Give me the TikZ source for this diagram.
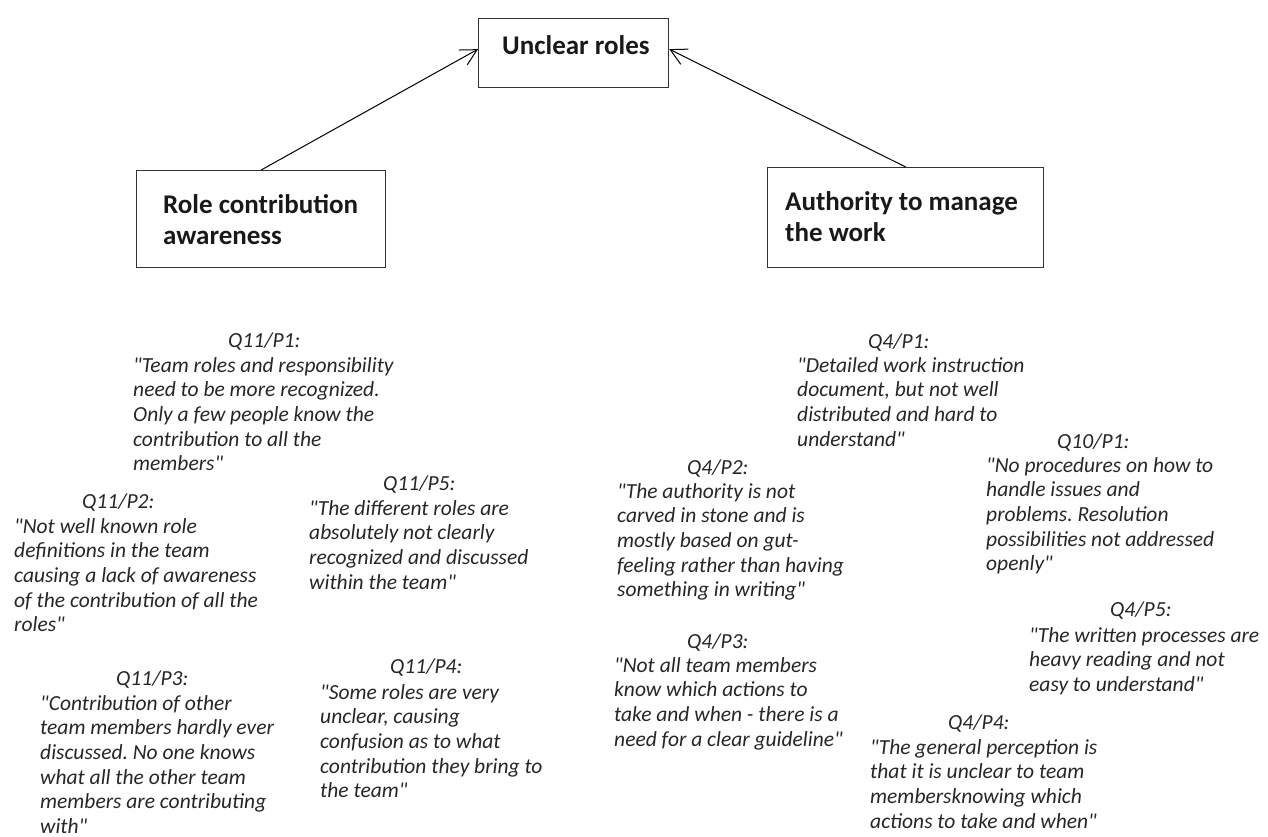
\documentclass[tikz,border=0pt]{standalone}
\usepackage{fontspec}
\setmainfont{Carlito}[Ligatures=TeXOff]
\usetikzlibrary{arrows.meta}
\frenchspacing
% stacked lines whose baseline is the first line
\newcommand\qlines[1]{\begin{tabular}[t]{@{}l@{}}#1\end{tabular}}
\begin{document}
\begin{tikzpicture}[x=1pt,y=-1pt,
  box/.style={draw=black!80, line width=1.3pt, rectangle, inner sep=0pt, anchor=north west},
  boxtext/.style={font=\bfseries\fontsize{27}{31}\selectfont, anchor=base west, inner sep=0pt, text=black!90},
  qhead/.style={font=\itshape\fontsize{21.5}{25}\selectfont, anchor=base west, inner sep=0pt, text=black!85},
  quote/.style={font=\itshape\fontsize{21.5}{24.7}\selectfont, anchor=base west, inner sep=0pt, text=black!85},
  arr/.style={-{Straight Barb[angle'=56,length=16pt]}, line width=1pt}
]
\useasboundingbox (0,0) rectangle (1268,837);

% category boxes
\node[box, minimum width=190pt, minimum height=69pt] (ur) at (478,18) {};
\node[boxtext] (urt) at (502,55) {Unclear roles};
\node[box, minimum width=249pt, minimum height=97pt] (rca) at (136,170) {};
\node[boxtext] (rcat) at (163,213) {\qlines{Role contribution\\awareness}};
\node[box, minimum width=276pt, minimum height=100pt] (awm) at (767,167) {};
\node[boxtext] (awmt) at (785,211) {\qlines{Authority to manage\\the work}};

% links to the main category
\draw[arr] (rca.north) -- ([yshift=4pt]ur.west);
\draw[arr] (awm.north) -- ([yshift=4pt]ur.east);

% quotes under "Role contribution awareness"
\node[qhead] (h1) at (228,347) {Q11/P1:};
\node[quote] (q1) at (133,372) {\qlines{"Team roles and responsibility\\need to be more recognized.\\Only a few people know the\\contribution to all the\\members"}};
\node[qhead] (h2) at (82,508) {Q11/P2:};
\node[quote] (q2) at (14,533) {\qlines{"Not well known role\\definitions in the team\\causing a lack of awareness\\of the contribution of all the\\roles"}};
\node[qhead] (h5) at (383,490) {Q11/P5:};
\node[quote] (q5) at (309,515) {\qlines{"The different roles are\\absolutely not clearly\\recognized and discussed\\within the team"}};
\node[qhead] (h3) at (116,685) {Q11/P3:};
\node[quote] (q3) at (40,710) {\qlines{"Contribution of other\\team members hardly ever\\discussed. No one knows\\what all the other team\\members are contributing\\with"}};
\node[qhead] (h4) at (390,673) {Q11/P4:};
\node[quote] (q4) at (320,699) {\qlines{"Some roles are very\\unclear, causing\\confusion as to what\\contribution they bring to\\the team"}};

% quotes under "Authority to manage the work"
\node[qhead] (a1) at (868,348) {Q4/P1:};
\node[quote] (b1) at (797,372) {\qlines{"Detailed work instruction\\document, but not well\\distributed and hard to\\understand"}};
\node[qhead] (a2) at (687,474) {Q4/P2:};
\node[quote] (b2) at (617,498) {\qlines{"The authority is not\\carved in stone and is\\mostly based on gut-\\feeling rather than having\\something in writing"}};
\node[qhead] (a10) at (1057,448) {Q10/P1:};
\node[quote] (b10) at (986,472) {\qlines{"No procedures on how to\\handle issues and\\problems. Resolution\\possibilities not addressed\\openly"}};
\node[qhead] (a3) at (687,648) {Q4/P3:};
\node[quote] (b3) at (614,672) {\qlines{"Not all team members\\know which actions to\\take and when - there is a\\need for a clear guideline"}};
\node[qhead] (a5) at (1110,616) {Q4/P5:};
\node[quote] (b5) at (1029,642) {\qlines{"The written processes are\\heavy reading and not\\easy to understand"}};
\node[qhead] (a4) at (948,729) {Q4/P4:};
\node[quote] (b4) at (870,754) {\qlines{"The general perception is\\that it is unclear to team\\membersknowing which\\actions to take and when"}};
\end{tikzpicture}
\end{document}
